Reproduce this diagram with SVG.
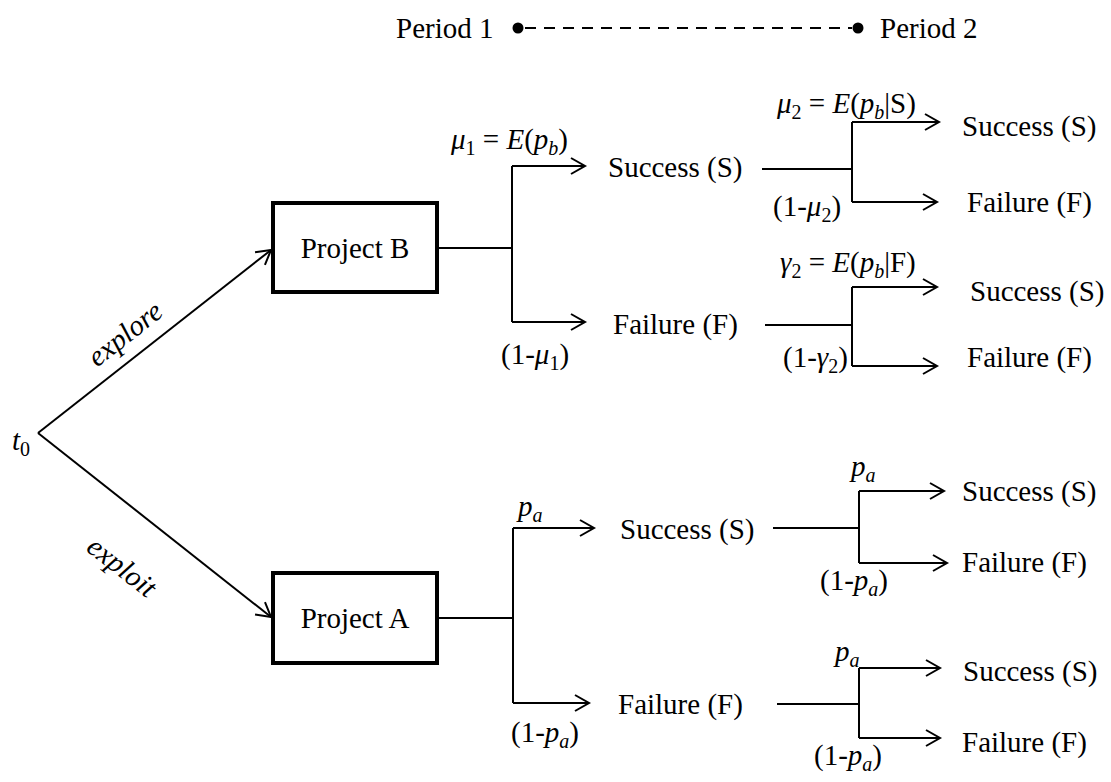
<svg xmlns="http://www.w3.org/2000/svg" width="1111" height="782" viewBox="0 0 1111 782">
<style>
text { font-family: "Liberation Serif", "Times New Roman", serif; font-size: 29px; fill: #000; }
.i { font-style: italic; }
.sub { font-size: 20px; }
.ln { stroke: #000; stroke-width: 2; fill: none; }
.arr { marker-end: url(#ah); }
.box { fill: #fff; stroke: #000; stroke-width: 4; }
.mid { text-anchor: middle; }
</style>
<defs>
<marker id="ah" markerUnits="userSpaceOnUse" markerWidth="20" markerHeight="20" refX="15" refY="10" orient="auto" overflow="visible">
<path d="M1,2 L15,10 L1,18" fill="none" stroke="#000" stroke-width="2"/>
</marker>
</defs>
<rect width="1111" height="782" fill="#fff"/>

<g id="period-legend">
<text x="396" y="38">Period 1</text>
<circle cx="518" cy="28" r="5.5" fill="#000"/>
<line x1="525" y1="28" x2="852" y2="28" stroke="#000" stroke-width="2" stroke-dasharray="11 8"/>
<circle cx="858" cy="28" r="5.5" fill="#000"/>
<text x="880" y="38">Period 2</text>
</g>

<g id="connectors">
<line class="ln arr" x1="38" y1="433" x2="271" y2="250"/>
<line class="ln arr" x1="38" y1="433" x2="271" y2="617"/>
<text class="i mid" transform="translate(126,335) rotate(-38)" y="8">explore</text>
<text class="i mid" transform="translate(121,568) rotate(38)" y="8">exploit</text>

<path class="ln" d="M437,248 H512 M512,166 V322"/>
<path class="ln arr" d="M512,166 H585"/>
<path class="ln arr" d="M512,322 H585"/>

<path class="ln" d="M762,169 H852 M852,122 V202"/>
<path class="ln arr" d="M852,122 H939"/>
<path class="ln arr" d="M852,202 H937"/>

<path class="ln" d="M765,325 H852 M852,287 V366"/>
<path class="ln arr" d="M852,287 H937"/>
<path class="ln arr" d="M852,366 H937"/>

<path class="ln" d="M437,618 H513 M513,528 V703"/>
<path class="ln arr" d="M513,528 H594"/>
<path class="ln arr" d="M513,703 H589"/>

<path class="ln" d="M773,528 H859 M859,491 V563"/>
<path class="ln arr" d="M859,491 H944"/>
<path class="ln arr" d="M859,563 H947"/>

<path class="ln" d="M777,704 H859" stroke-width="3"/>
<path class="ln" d="M859,668 V738"/>
<path class="ln arr" d="M859,668 H940"/>
<path class="ln arr" d="M859,738 H940"/>
</g>

<g id="t0">
<text x="12" y="450"><tspan class="i">t</tspan><tspan class="sub" dy="6">0</tspan></text>
</g>

<g id="project-b">
<rect class="box" x="273" y="203" width="164" height="89"/>
<text class="mid" x="355" y="258">Project B</text>
</g>

<g id="project-a">
<rect class="box" x="273" y="573" width="164" height="90"/>
<text class="mid" x="355" y="628">Project A</text>
</g>

<g id="b-probabilities">
<text x="451" y="149"><tspan class="i">μ</tspan><tspan class="sub" dy="6">1</tspan><tspan dy="-6"> = </tspan><tspan class="i">E</tspan>(<tspan class="i">p</tspan><tspan class="sub i" dy="6">b</tspan><tspan dy="-6">)</tspan></text>
<text x="501" y="364">(1-<tspan class="i">μ</tspan><tspan class="sub" dy="6">1</tspan><tspan dy="-6">)</tspan></text>
</g>

<g id="b-success">
<text x="608" y="177">Success (S)</text>
</g>
<g id="b-failure">
<text x="613" y="334">Failure (F)</text>
</g>

<g id="bs-outcomes">
<text x="777" y="113"><tspan class="i">μ</tspan><tspan class="sub" dy="6">2</tspan><tspan dy="-6"> = </tspan><tspan class="i">E</tspan>(<tspan class="i">p</tspan><tspan class="sub i" dy="6">b</tspan><tspan dy="-6">|S)</tspan></text>
<text x="773" y="216">(1-<tspan class="i">μ</tspan><tspan class="sub" dy="6">2</tspan><tspan dy="-6">)</tspan></text>
<text x="962" y="136">Success (S)</text>
<text x="967" y="212">Failure (F)</text>
</g>

<g id="bf-outcomes">
<text x="780" y="272"><tspan class="i">γ</tspan><tspan class="sub" dy="6">2</tspan><tspan dy="-6"> = </tspan><tspan class="i">E</tspan>(<tspan class="i">p</tspan><tspan class="sub i" dy="6">b</tspan><tspan dy="-6">|F)</tspan></text>
<text x="783" y="367">(1-<tspan class="i">γ</tspan><tspan class="sub" dy="6">2</tspan><tspan dy="-6">)</tspan></text>
<text x="970" y="301">Success (S)</text>
<text x="967" y="367">Failure (F)</text>
</g>

<g id="a-probabilities">
<text x="518" y="516"><tspan class="i">p</tspan><tspan class="sub i" dy="6">a</tspan></text>
<text x="511" y="742">(1-<tspan class="i">p</tspan><tspan class="sub i" dy="6">a</tspan><tspan dy="-6">)</tspan></text>
</g>

<g id="a-success">
<text x="620" y="539">Success (S)</text>
</g>
<g id="a-failure">
<text x="618" y="714">Failure (F)</text>
</g>

<g id="as-outcomes">
<text x="851" y="476"><tspan class="i">p</tspan><tspan class="sub i" dy="6">a</tspan></text>
<text x="820" y="590">(1-<tspan class="i">p</tspan><tspan class="sub i" dy="6">a</tspan><tspan dy="-6">)</tspan></text>
<text x="962" y="501">Success (S)</text>
<text x="962" y="572">Failure (F)</text>
</g>

<g id="af-outcomes">
<text x="835" y="661"><tspan class="i">p</tspan><tspan class="sub i" dy="6">a</tspan></text>
<text x="814" y="765">(1-<tspan class="i">p</tspan><tspan class="sub i" dy="6">a</tspan><tspan dy="-6">)</tspan></text>
<text x="963" y="681">Success (S)</text>
<text x="962" y="752">Failure (F)</text>
</g>
</svg>
